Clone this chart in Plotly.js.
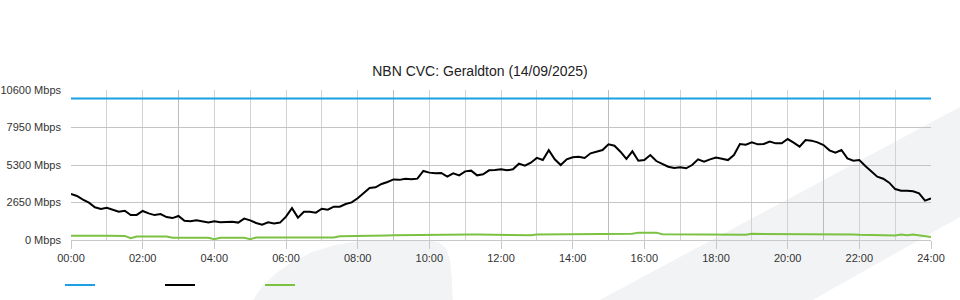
<!DOCTYPE html>
<html>
<head>
<meta charset="utf-8">
<script src="https://cdn.plot.ly/plotly-3.0.1.min.js"></script>
<style>
html,body{margin:0;padding:0;background:#fff;}
#chart{width:960px;height:300px;}
</style>
</head>
<body>
<div id="chart"></div>
<script>
const chartTitle = "NBN CVC: Geraldton (14/09/2025)";
const stepMinutes = 10;

const capacityTimes = [0, 24];
const capacity = [10000, 10000];

const download = [
  3250,3110,2850,2640,2310,2190,2280,2120,2000,2070,
  1770,1770,2050,1880,1760,1830,1620,1550,1700,1360,
  1320,1400,1330,1240,1330,1250,1280,1290,1230,1510,
  1390,1200,1080,1250,1170,1230,1650,2250,1580,2000,
  2000,1930,2210,2140,2355,2355,2540,2660,2950,3300,
  3675,3720,3960,4100,4280,4250,4335,4290,4335,4880,
  4760,4710,4735,4475,4710,4570,4850,4900,4570,4640,
  4925,4950,5000,4925,4995,5395,5250,5465,5800,5655,
  6350,5700,5300,5700,5850,5890,5795,6125,6220,6360,
  6760,6665,6240,5725,6265,5605,5650,6000,5580,5370,
  5180,5090,5135,5065,5300,5700,5535,5700,5820,5745,
  5650,6005,6785,6735,6900,6760,6785,6950,6830,6830,
  7135,6880,6595,7065,7020,6900,6710,6335,6170,6360,
  5770,5605,5650,5230,4830,4475,4330,4050,3600,3485,
  3485,3440,3300,2780,2945
];

const upload = [
  295,290,260,285,295,295,295,295,295,290,
  130,250,250,250,250,250,250,155,155,155,
  155,155,155,155,60,155,155,155,155,155,
  60,175,175,175,175,175,175,175,175,175,
  175,175,175,175,175,270,270,270,320,320,
  320,320,320,320,330,330,340,330,330,340,
  340,345,340,345,340,350,380,380,385,380,
  380,370,364,364,330,316,316,330,390,390,
  410,430,430,400,390,390,395,390,390,390,
  420,420,440,440,440,520,530,520,520,410,
  410,410,390,390,390,364,364,364,364,364,
  364,364,364,364,434,434,434,434,434,434,
  434,434,434,434,434,390,390,390,390,390,
  390,390,364,364,364,364,320,320,320,380,
  340,380,340,300,220
];

const xTickVals = [0,2,4,6,8,10,12,14,16,18,20,22,24];
const xTickText = ["00:00","02:00","04:00","06:00","08:00","10:00","12:00","14:00","16:00","18:00","20:00","22:00","24:00"];
const xMarkerVals = [3,9,15,21];
const yTickVals = [0,2650,5300,7950,10600];
const yTickText = ["0 Mbps","2650 Mbps","5300 Mbps","7950 Mbps","10600 Mbps"];

const times = download.map((_, i) => i * stepMinutes / 60);

const colors = {capacity: "#1ba1e2", download: "#000000", upload: "#7cc242"};
const fontFamily = "'Liberation Sans', Arial, sans-serif";

const traces = [
  {x: capacityTimes, y: capacity, xaxis: "x2", yaxis: "y", type: "scatter", mode: "lines",
   name: " ", line: {color: colors.capacity, width: 2}},
  {x: times, y: download, type: "scatter", mode: "lines",
   name: " ", line: {color: colors.download, width: 2}},
  {x: times, y: upload, type: "scatter", mode: "lines",
   name: " ", line: {color: colors.upload, width: 2}}
];

// plot area: x 71..931 px, y 90..240 px
const px = v => (v - 71) / 860;
const py = v => (240 - v) / 150;
const wm = "#f2f3f5";
const poly = pts => "M " + pts.map(p => px(p[0]).toFixed(5) + "," + py(p[1]).toFixed(5)).join(" L ") + " Z";

const bandPts = [[581, 310], [1000, 85.6], [1000, 194.4], [795, 310]];
const humpPts = [[250, 310], [253, 300], [262, 287], [275, 274], [292, 262], [312, 252], [335, 245], [360, 241],
                 [390, 240], [425, 240], [438, 242], [446, 248], [450, 260], [452, 280], [453, 310]];

const layout = {
  width: 960, height: 300,
  margin: {l: 71, r: 29, t: 90, b: 60, pad: 0, autoexpand: false},
  paper_bgcolor: "#ffffff",
  plot_bgcolor: "rgba(0,0,0,0)",
  font: {family: fontFamily, size: 11, color: "#333333"},
  title: {text: chartTitle, font: {family: fontFamily, size: 14, color: "#222222"},
          x: 0.5, xref: "container", xanchor: "center", y: 1 - 71/300, yref: "container", yanchor: "middle",
          automargin: false},
  showlegend: true,
  legend: {orientation: "h", x: px(60), xanchor: "left", y: py(285), yanchor: "middle",
           entrywidth: 55, entrywidthmode: "pixels", font: {size: 11}, bgcolor: "rgba(0,0,0,0)"},
  xaxis: {
    range: [0, 24], tickmode: "array", tickvals: xTickVals, ticktext: xTickText,
    showgrid: true, gridcolor: "#d2d2d2", gridwidth: 1,
    minor: {tickmode: "linear", tick0: 0, dtick: 1, showgrid: true, gridcolor: "#d2d2d2", gridwidth: 1, ticks: ""},
    ticks: "outside", ticklen: 8, tickcolor: "#c8c8c8", tickwidth: 1,
    showline: true, linecolor: "#c8c8c8", linewidth: 1,
    zeroline: false, tickfont: {size: 11, color: "#333333"}, fixedrange: true, automargin: false
  },
  xaxis2: {
    range: [0, 24], overlaying: "x", anchor: "y", side: "bottom",
    tickmode: "array", tickvals: xMarkerVals, showticklabels: false, ticks: "",
    showgrid: true, gridcolor: "#bdbdbd", gridwidth: 1, zeroline: false, showline: false, fixedrange: true
  },
  yaxis: {
    range: [0, 10600], tickmode: "array", tickvals: yTickVals, ticktext: yTickText,
    showgrid: true, gridcolor: "#c4c4c4", gridwidth: 1,
    zeroline: false, showline: false, ticks: "", ticklabelstandoff: 9,
    tickfont: {size: 11, color: "#333333"}, fixedrange: true, automargin: false
  },
  shapes: [
    {type: "path", xref: "paper", yref: "paper", layer: "below", line: {width: 0}, fillcolor: wm,
     path: poly(bandPts)},
    {type: "path", xref: "paper", yref: "paper", layer: "below", line: {width: 0}, fillcolor: wm,
     path: poly(humpPts)}
  ]
};

Plotly.newPlot("chart", traces, layout, {staticPlot: true, displayModeBar: false});
</script>
</body>
</html>
